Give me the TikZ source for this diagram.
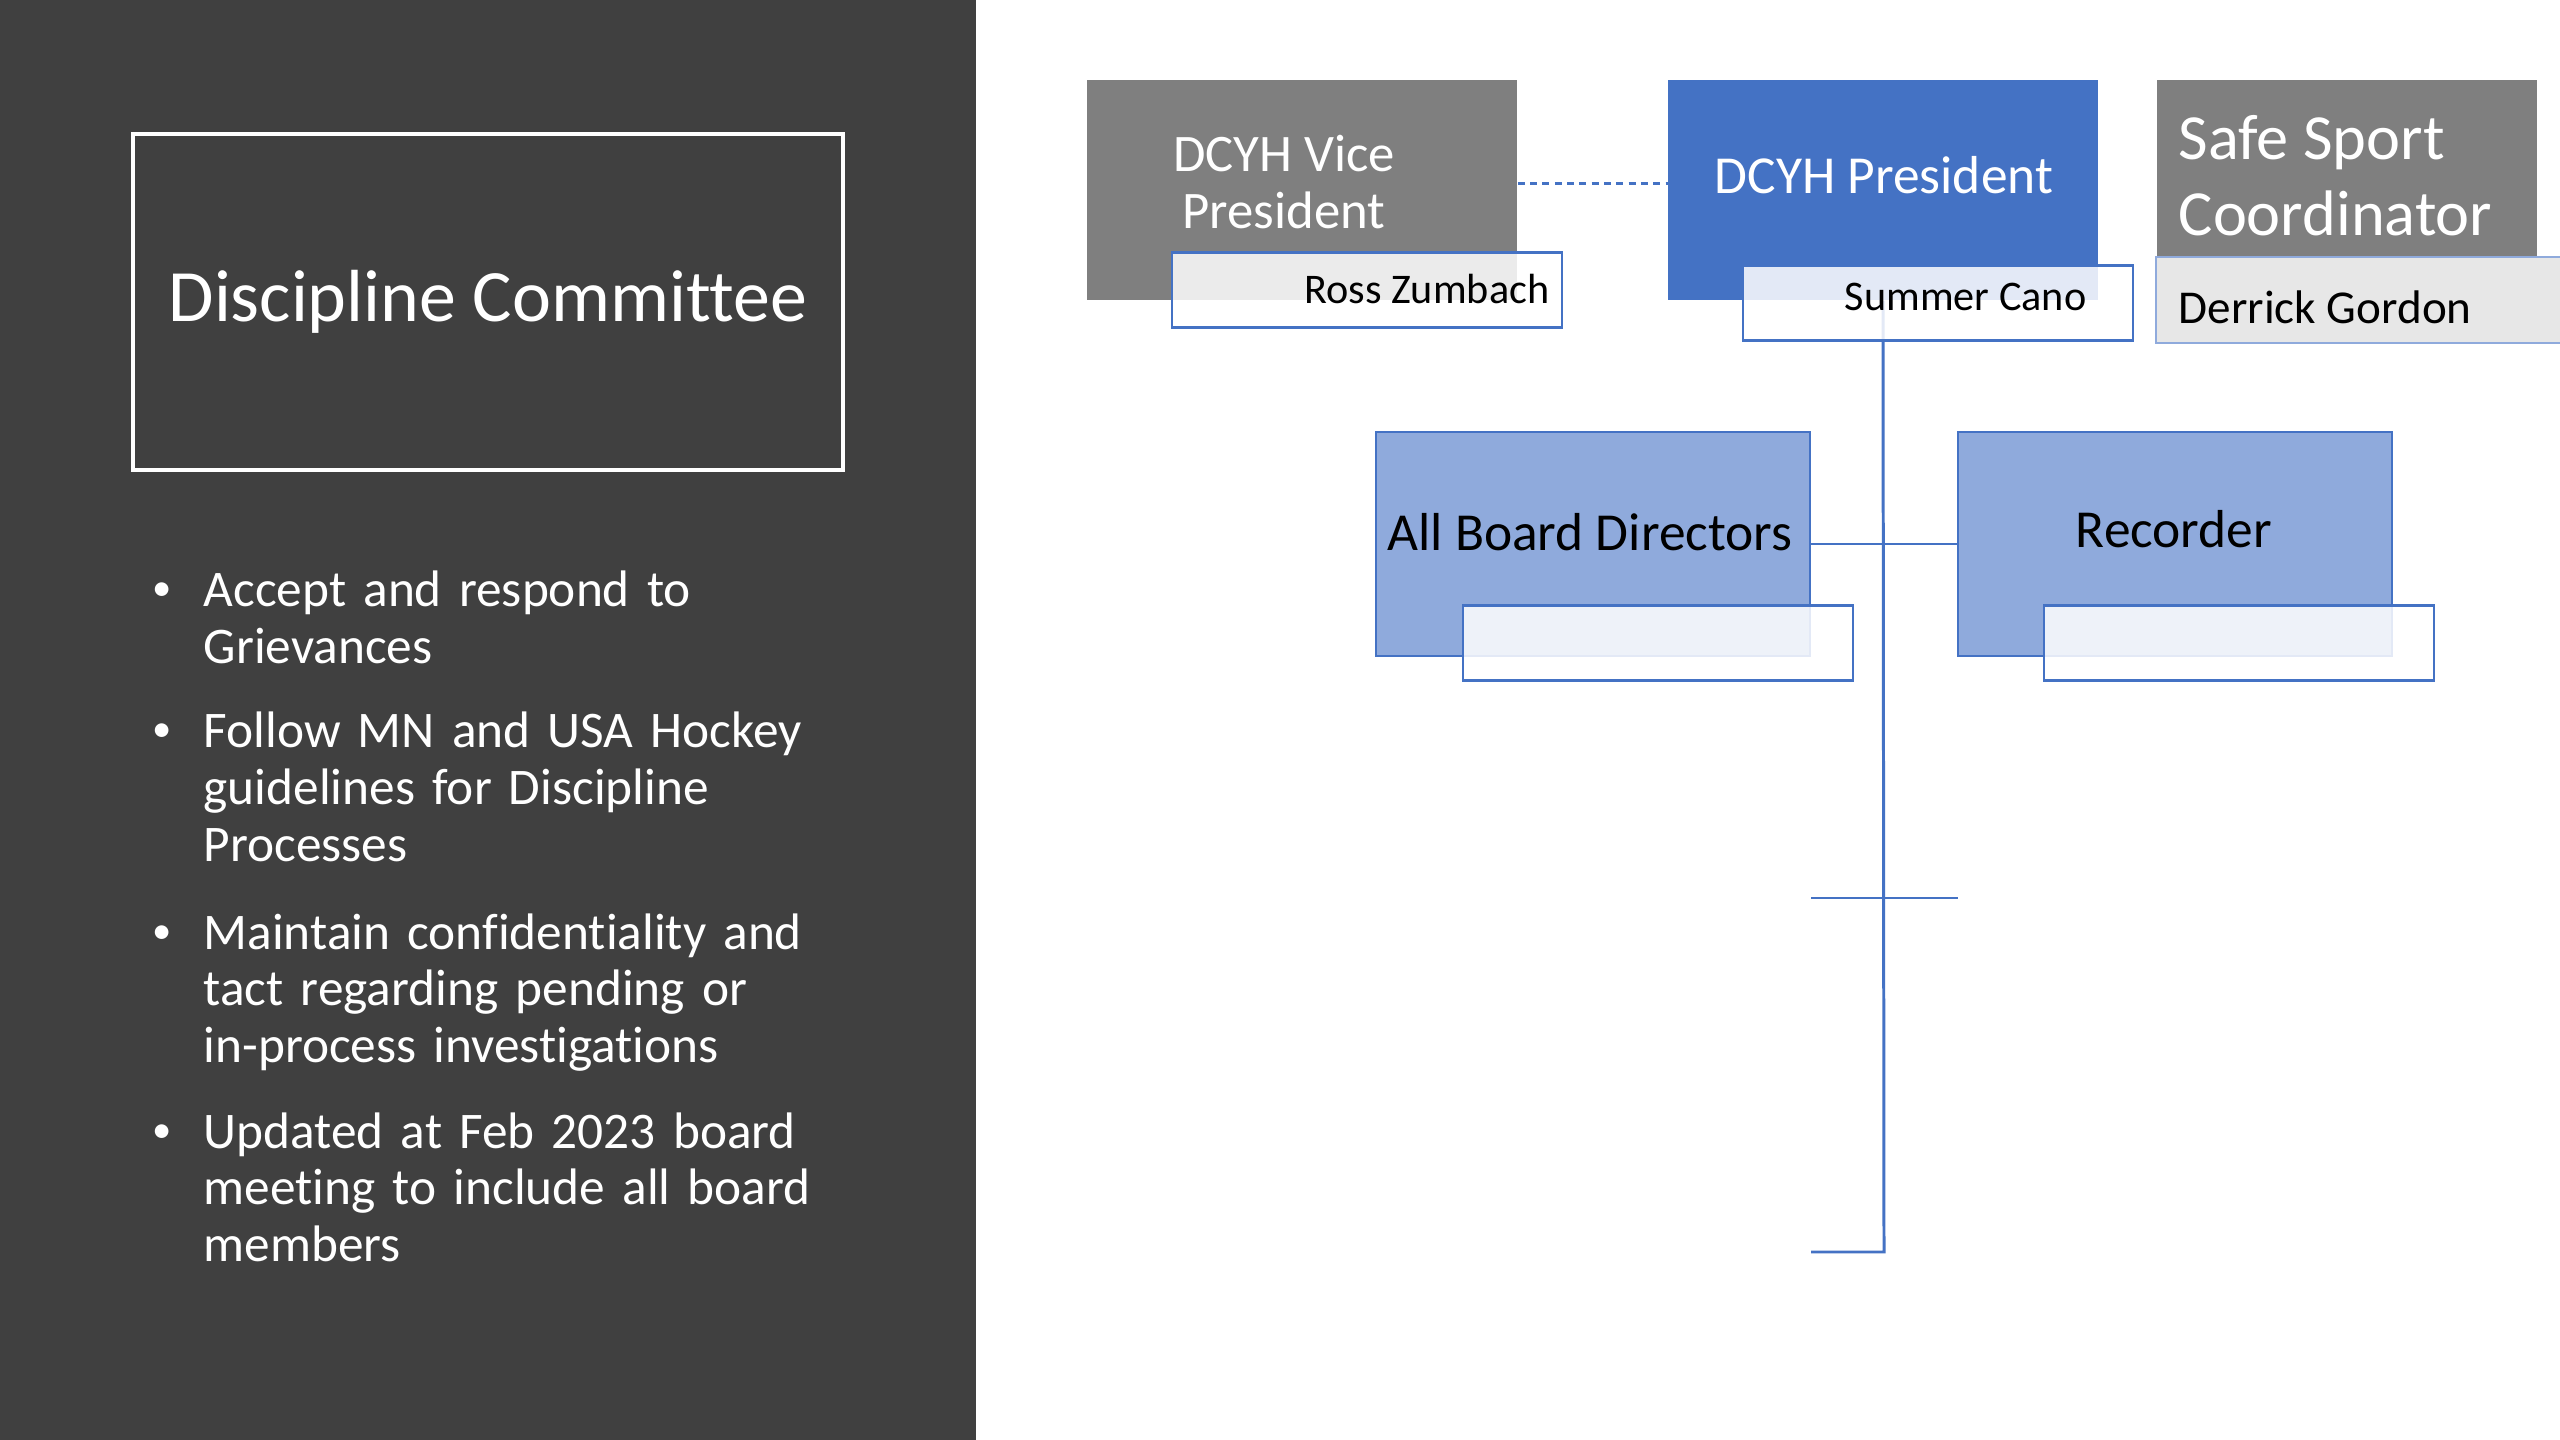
\documentclass[tikz,border=0pt]{standalone}
\usepackage{fontspec}
\setmainfont[Ligatures=NoCommon]{Carlito}
\definecolor{panelgray}{HTML}{404040}
\definecolor{vpgray}{HTML}{7F7F7F}
\definecolor{presblue}{HTML}{4472C4}
\definecolor{subblue}{HTML}{8FAADC}
\definecolor{namegray}{HTML}{E7E7E7}
\begin{document}
\begin{tikzpicture}[x=0.01cm,y=-0.01cm,
  topbox/.style={rectangle, inner sep=0pt, minimum height=2.20cm},
  toptext/.style={inner sep=0pt, align=center, text=white},
  subbox/.style={rectangle, inner sep=0pt, fill=subblue, draw=presblue, line width=0.6pt, minimum width=4.34cm, minimum height=2.23cm},
  subtext/.style={inner sep=0pt, font=\fontsize{15.2}{18}\selectfont},
  namebox/.style={rectangle, inner sep=0pt, fill=white, fill opacity=0.85, draw=presblue, line width=0.6pt, minimum width=3.90cm, minimum height=0.75cm},
  nametext/.style={anchor=east, inner sep=0pt, font=\fontsize{12}{14}\selectfont},
  link/.style={draw=presblue, line width=0.85pt},
  item/.style={anchor=base west, inner sep=0pt, text=white, align=left, text width=7cm, font=\fontsize{14.6}{16.2}\selectfont},
  bul/.style={anchor=base, inner sep=0pt, text=white, font=\fontsize{11}{12}\selectfont}]
\useasboundingbox (0,0) rectangle (2560,1440);
\fill[white] (0,0) rectangle (2560,1440);
% left panel
\fill[panelgray] (0,0) rectangle (976,1440);
\node[draw=white, line width=1.2pt, minimum width=7.09cm, minimum height=3.36cm, text=white, font=\fontsize{21}{24}\selectfont] (title) at (488,302) {Discipline Committee};
\node[bul] (bul1) at (162,601) {\textbullet};
\node[item] (item1) at (203,607) {Accept and respond to\\Grievances};
\node[bul] (bul2) at (162,742) {\textbullet};
\node[item] (item2) at (203,748) {Follow MN and USA Hockey\\guidelines for Discipline\\Processes};
\node[bul] (bul3) at (162,943) {\textbullet};
\node[item] (item3) at (203,949) {Maintain confidentiality and\\tact regarding pending or\\in-process investigations};
\node[bul] (bul4) at (162,1142) {\textbullet};
\node[item] (item4) at (203,1148) {Updated at Feb 2023 board\\meeting to include all board\\members};
% top row
\node[topbox, fill=vpgray, minimum width=4.30cm] (vp) at (1302,190) {};
\node[toptext, font=\fontsize{15}{16.2}\selectfont] (vptext) at (1284,182) {DCYH Vice\\President};
\node[topbox, fill=presblue, minimum width=4.29cm] (pres) at (1883,190) {};
\node[toptext, font=\fontsize{15.2}{18}\selectfont] (prestext) at (1884,175) {DCYH President};
\node[topbox, fill=vpgray, minimum width=3.80cm, minimum height=1.78cm] (safe) at (2347,169) {};
\node[toptext, anchor=west, align=left, font=\fontsize{18.3}{21.7}\selectfont] (safetext) at (2178,176) {Safe Sport\\Coordinator};
% second row
\node[subbox] (abd) at (1593,544) {};
\node[subtext] (abdtext) at (1590,532) {All Board Directors};
\node[subbox] (rec) at (2175,544) {};
\node[subtext] (rectext) at (2174,529) {Recorder};
% connectors
\draw[link, dash pattern=on 2pt off 1.5pt] ([yshift=1.8pt]vp.east) -- ([yshift=1.8pt]pres.west);
\coordinate (trunkend) at (1884,1252);
\coordinate (trunkstub) at (1811,1252);
\coordinate (midl) at (1811,898);
\coordinate (midr) at (1958,898);
\draw[link] (pres.south) -- (trunkend) -- (trunkstub);
\draw[link] (abd.east) -- (rec.west);
\draw[link] (midl) -- (midr);
% name boxes
\node[namebox] (vpname) at (1367,290) {};
\node[nametext] (vpnametext) at (1550,289) {Ross Zumbach};
\node[namebox] (presname) at (1938,303) {};
\node[nametext] (presnametext) at (2087,297) {Summer Cano};
\node[rectangle, inner sep=0pt, fill=namegray, draw=presblue!60, line width=0.6pt, minimum width=4.09cm, minimum height=0.86cm] (safename) at (2361,300) {};
\node[anchor=west, inner sep=0pt, font=\fontsize{13.4}{15}\selectfont] (safenametext) at (2178,307) {Derrick Gordon};
\node[namebox] (abdname) at (1658,643) {};
\node[namebox] (recname) at (2239,643) {};
\end{tikzpicture}
\end{document}
